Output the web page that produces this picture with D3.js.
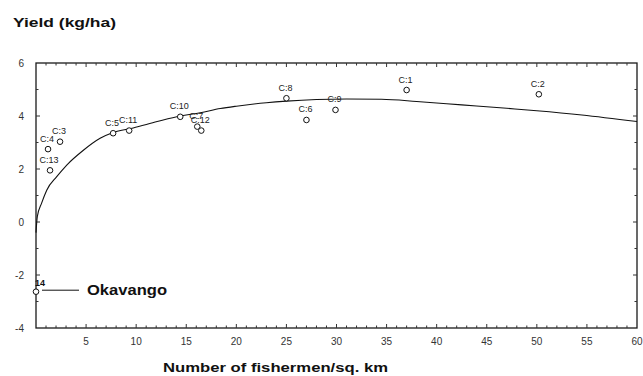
<!DOCTYPE html>
<html lang="en">
<head>
  <meta charset="UTF-8">
  <title>Yield vs fishermen density</title>
  <script src="https://d3js.org/d3.v7.min.js"></script>
  <style>
    body { margin: 0; background: #fff; font-family: "Liberation Sans", Arial, Helvetica, sans-serif; }
    svg { display: block; }
    .tick-label { font-size: 10px; fill: #333; }
    .pt-label { font-size: 9px; fill: #222; }
    .title { font-weight: bold; fill: #111; }
  </style>
</head>
<body>
  <svg></svg>
  <script>
    // site labels, fishermen per sq. km and yield
    const siteLabels = ["C:1", "C:2", "C:3", "C:4", "C:5", "C:6", "C:7", "C:8", "C:9", "C:10", "C:11", "C:12", "C:13", "14"];
    const fishermen = [37.0, 50.2, 2.4, 1.2, 7.7, 27.0, 16.1, 25.0, 29.9, 14.4, 9.3, 16.5, 1.4, 0.0];
    const yields = [4.98, 4.82, 3.03, 2.75, 3.35, 3.85, 3.6, 4.67, 4.23, 3.97, 3.45, 3.45, 1.95, -2.63];

    // fitted curve, points
    const curveX = [0, 0.13, 0.57, 1.07, 2.07, 3.07, 4.7, 6.4, 7.7, 9.7, 12.1, 14.4, 16.4, 18.4, 20, 23, 25, 28, 31, 34.5, 38, 42.5, 47, 50, 54.5, 60];
    const curveY = [-0.4, 0.2, 0.72, 1.2, 1.71, 2.15, 2.7, 3.16, 3.38, 3.55, 3.79, 4.0, 4.12, 4.28, 4.37, 4.5, 4.56, 4.62, 4.64, 4.63, 4.55, 4.42, 4.29, 4.2, 4.04, 3.79];

    const xTicks = [5, 10, 15, 20, 25, 30, 35, 40, 45, 50, 55, 60];
    const yTicks = [-4, -2, 0, 2, 4, 6];

    const W = 643, H = 376;
    const margin = { top: 63, right: 6, bottom: 48, left: 36 };

    const svg = d3.select("svg").attr("width", W).attr("height", H);

    const x = d3.scaleLinear().domain([0, 60]).range([margin.left, W - margin.right]);
    const y = d3.scaleLinear().domain([-4, 6]).range([H - margin.bottom, margin.top]);

    // frame
    svg.append("rect")
      .attr("x", x(0)).attr("y", y(6))
      .attr("width", x(60) - x(0)).attr("height", y(-4) - y(6))
      .attr("fill", "none").attr("stroke", "#1a1a1a").attr("stroke-width", 1.3);

    // inward minor ticks on all four sides
    const g = svg.append("g").attr("stroke", "#333").attr("stroke-width", 1);
    d3.range(1, 60).forEach(v => {
      const len = v % 5 === 0 ? 4 : 2.5;
      g.append("line").attr("x1", x(v)).attr("x2", x(v)).attr("y1", y(-4)).attr("y2", y(-4) - len);
      g.append("line").attr("x1", x(v)).attr("x2", x(v)).attr("y1", y(6)).attr("y2", y(6) + len);
    });
    d3.range(-3, 6).forEach(v => {
      const len = v % 2 === 0 ? 4 : 2.5;
      g.append("line").attr("y1", y(v)).attr("y2", y(v)).attr("x1", x(0)).attr("x2", x(0) + len);
      g.append("line").attr("y1", y(v)).attr("y2", y(v)).attr("x1", x(60)).attr("x2", x(60) - len);
    });

    // tick labels
    svg.append("g").selectAll("text").data(xTicks).join("text")
      .attr("class", "tick-label")
      .attr("x", d => x(d)).attr("y", y(-4) + 17)
      .attr("text-anchor", "middle")
      .text(d => d);

    svg.append("g").selectAll("text").data(yTicks).join("text")
      .attr("class", "tick-label")
      .attr("x", x(0) - 12).attr("y", d => y(d) + 4)
      .attr("text-anchor", "end")
      .text(d => d);

    // curve
    const line = d3.line()
      .x(d => x(d[0]))
      .y(d => y(d[1]))
      .curve(d3.curveMonotoneX);

    svg.append("path")
      .datum(curveX.map((v, i) => [v, curveY[i]]))
      .attr("d", line)
      .attr("fill", "none")
      .attr("stroke", "#111")
      .attr("stroke-width", 1.1);

    // points
    const pts = siteLabels.map((s, i) => ({ s, fx: fishermen[i], fy: yields[i] }));

    svg.append("g").selectAll("circle").data(pts).join("circle")
      .attr("cx", d => x(d.fx)).attr("cy", d => y(d.fy))
      .attr("r", 2.8)
      .attr("fill", "#fff").attr("stroke", "#111").attr("stroke-width", 1);

    svg.append("g").selectAll("text").data(pts.filter(d => d.s !== "14")).join("text")
      .attr("class", "pt-label")
      .attr("x", d => x(d.fx) - 1).attr("y", d => y(d.fy) - 7.5)
      .attr("text-anchor", "middle")
      .text(d => d.s);

    // Okavango callout
    const oka = pts.find(d => d.s === "14");
    svg.append("text")
      .attr("x", x(oka.fx) - 1).attr("y", y(oka.fy) - 6)
      .attr("font-size", 9).attr("font-weight", "bold").attr("fill", "#111")
      .text(oka.s);
    svg.append("line")
      .attr("x1", x(oka.fx) + 6).attr("x2", x(oka.fx) + 43)
      .attr("y1", y(oka.fy) - 1.5).attr("y2", y(oka.fy) - 1.5)
      .attr("stroke", "#111").attr("stroke-width", 1);
    svg.append("text")
      .attr("x", x(oka.fx) + 51).attr("y", y(oka.fy) + 3.5)
      .attr("font-size", 14).attr("font-weight", "bold").attr("fill", "#111")
      .attr("textLength", 80).attr("lengthAdjust", "spacingAndGlyphs")
      .text("Okavango");

    // axis titles
    svg.append("text")
      .attr("class", "title")
      .attr("x", 13).attr("y", 27)
      .attr("font-size", 13)
      .attr("textLength", 103).attr("lengthAdjust", "spacingAndGlyphs")
      .text("Yield (kg/ha)");

    svg.append("text")
      .attr("class", "title")
      .attr("x", 163).attr("y", 372)
      .attr("font-size", 12.5)
      .attr("textLength", 225).attr("lengthAdjust", "spacingAndGlyphs")
      .text("Number of fishermen/sq. km");
  </script>
</body>
</html>
